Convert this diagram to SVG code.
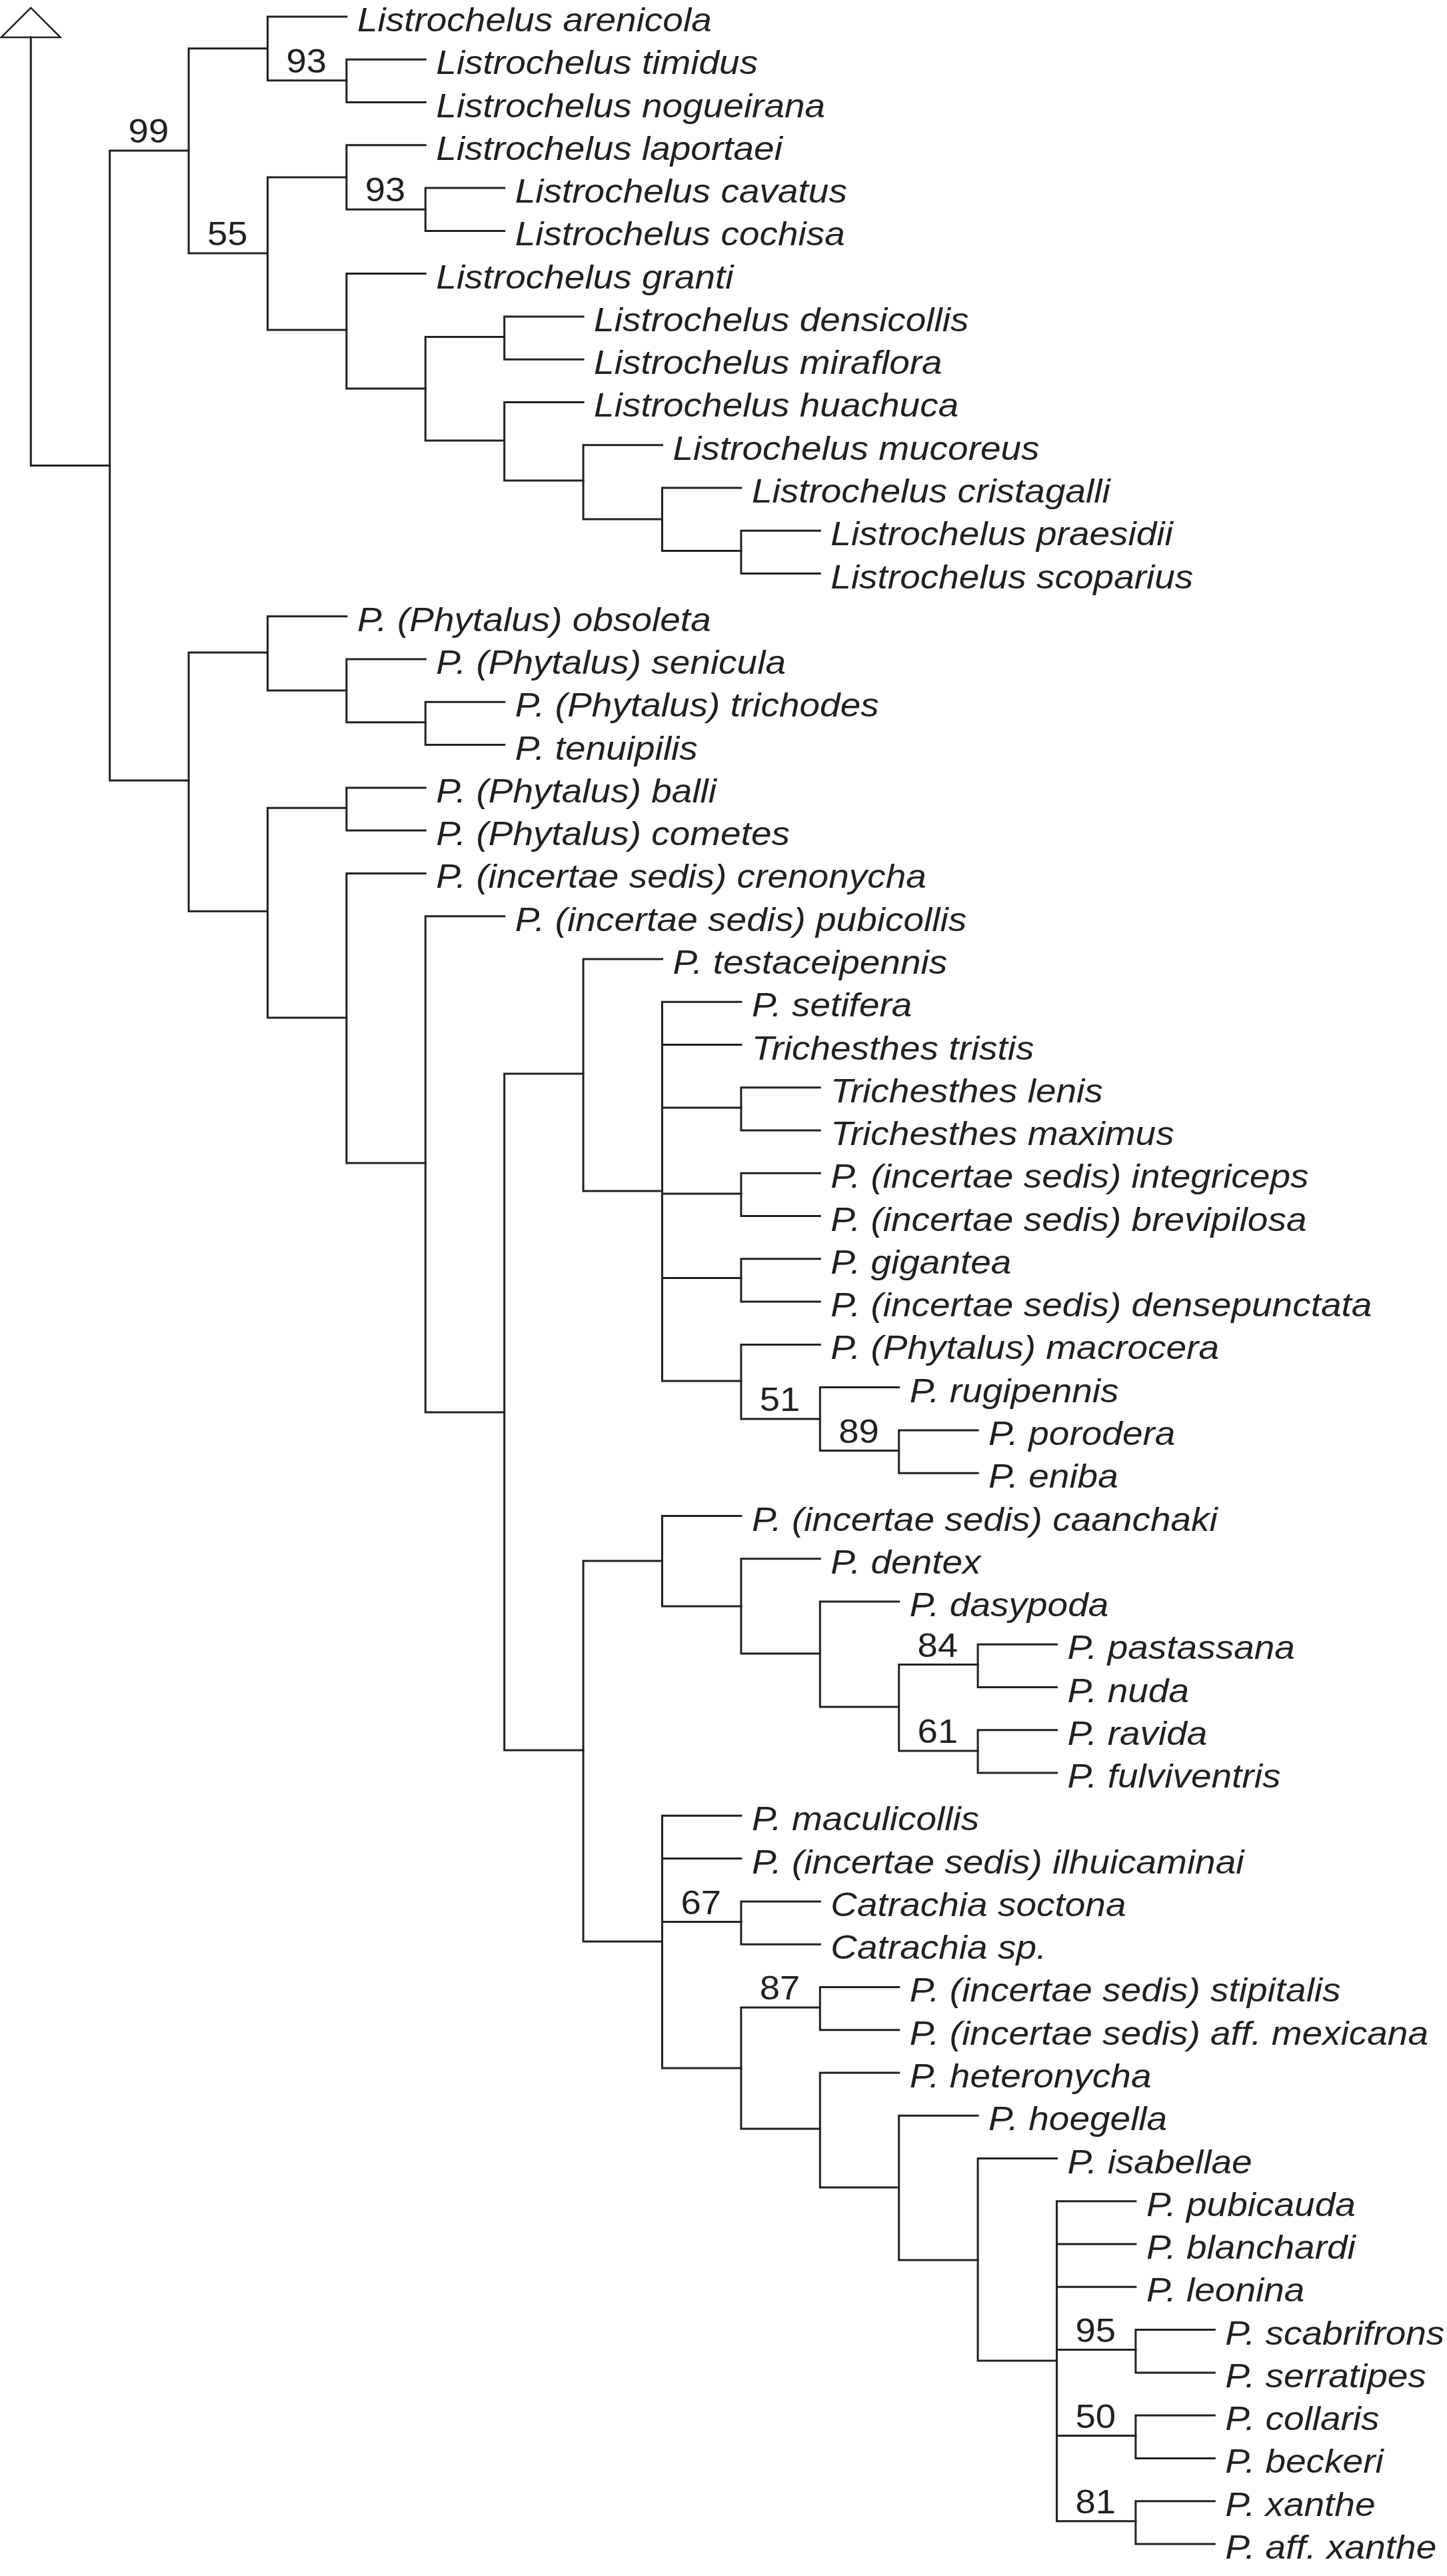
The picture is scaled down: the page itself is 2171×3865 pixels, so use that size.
<svg xmlns="http://www.w3.org/2000/svg" width="2171" height="3865" viewBox="0 0 2171 3865">
<style>
.br{fill:none;stroke:#231f20;stroke-width:3;stroke-linejoin:miter;stroke-linecap:square}
.tri{fill:#fff;stroke:#231f20;stroke-width:2.5;stroke-linejoin:miter}
.tx{font-family:"Liberation Sans",Arial,Helvetica,sans-serif;font-size:50px;font-style:italic;fill:#231f20}
.bs{font-family:"Liberation Sans",Arial,Helvetica,sans-serif;font-size:50px;fill:#231f20;text-anchor:middle}
</style>
<rect width="2171" height="3865" fill="#fff"/>
<g id="outgroup-arrow"><polygon class="tri" points="46.3,11.7 1.7,56 90.7,56"/></g>
<g id="connectors">
<path class="br" d="M46.3 56V698.5H164.7"/>
<path class="br" d="M283.1 226H164.7V1171H283.1"/>
<path class="br" d="M401.5 72.7H283.1V380H401.5"/>
<path class="br" d="M519.9 25H401.5V120.7H519.9"/>
<path class="br" d="M638.3 89.3H519.9V153.5H638.3"/>
<path class="br" d="M519.9 266H401.5V495H519.9"/>
<path class="br" d="M638.3 217.8H519.9V314.2H638.3"/>
<path class="br" d="M756.7 282.1H638.3V346.4H756.7"/>
<path class="br" d="M638.3 410.6H519.9V583H638.3"/>
<path class="br" d="M756.7 505.4H638.3V661H756.7"/>
<path class="br" d="M875.1 474.9H756.7V539.2H875.1"/>
<path class="br" d="M875.1 603.4H756.7V721H875.1"/>
<path class="br" d="M993.5 667.7H875.1V779H993.5"/>
<path class="br" d="M1111.9 732H993.5V826.5H1111.9"/>
<path class="br" d="M1230.3 796.2H1111.9V860.5H1230.3"/>
<path class="br" d="M401.5 979H283.1V1367.3H401.5"/>
<path class="br" d="M519.9 924.8H401.5V1036H519.9"/>
<path class="br" d="M638.3 989.1H519.9V1083.7H638.3"/>
<path class="br" d="M756.7 1053.3H638.3V1117.6H756.7"/>
<path class="br" d="M519.9 1212.3H401.5V1527H519.9"/>
<path class="br" d="M638.3 1181.9H519.9V1246.1H638.3"/>
<path class="br" d="M638.3 1310.4H519.9V1745H638.3"/>
<path class="br" d="M756.7 1374.7H638.3V2119H756.7"/>
<path class="br" d="M875.1 1611H756.7V2626H875.1"/>
<path class="br" d="M993.5 1438.9H875.1V1787H993.5"/>
<path class="br" d="M1111.9 1503.2H993.5V2072H1111.9M993.5 1567.5H1111.9M993.5 1662H1111.9M993.5 1791H1111.9M993.5 1917.6H1111.9"/>
<path class="br" d="M1230.3 1631.8H1111.9V1696H1230.3"/>
<path class="br" d="M1230.3 1760.3H1111.9V1824.6H1230.3"/>
<path class="br" d="M1230.3 1888.8H1111.9V1953.1H1230.3"/>
<path class="br" d="M1230.3 2017.4H1111.9V2129H1230.3"/>
<path class="br" d="M1348.7 2081.6H1230.3V2176.5H1348.7"/>
<path class="br" d="M1467.1 2145.9H1348.7V2210.2H1467.1"/>
<path class="br" d="M993.5 2342H875.1V2913H993.5"/>
<path class="br" d="M1111.9 2274.5H993.5V2410H1111.9"/>
<path class="br" d="M1230.3 2338.7H1111.9V2481H1230.3"/>
<path class="br" d="M1348.7 2403H1230.3V2561H1348.7"/>
<path class="br" d="M1467.1 2497.5H1348.7V2627H1467.1"/>
<path class="br" d="M1585.5 2467.3H1467.1V2531.5H1585.5"/>
<path class="br" d="M1585.5 2595.8H1467.1V2660.1H1585.5"/>
<path class="br" d="M1111.9 2724.3H993.5V3103H1111.9M993.5 2788.6H1111.9M993.5 2883.5H1111.9"/>
<path class="br" d="M1230.3 2852.9H1111.9V2917.2H1230.3"/>
<path class="br" d="M1230.3 3012H1111.9V3194H1230.3"/>
<path class="br" d="M1348.7 2981.4H1230.3V3045.7H1348.7"/>
<path class="br" d="M1348.7 3110H1230.3V3282H1348.7"/>
<path class="br" d="M1467.1 3174.2H1348.7V3391H1467.1"/>
<path class="br" d="M1585.5 3238.5H1467.1V3542H1585.5"/>
<path class="br" d="M1703.9 3302.8H1585.5V3782.7H1703.9M1585.5 3367H1703.9M1585.5 3431.3H1703.9M1585.5 3525.5H1703.9M1585.5 3654.5H1703.9"/>
<path class="br" d="M1822.3 3495.6H1703.9V3559.9H1822.3"/>
<path class="br" d="M1822.3 3624.1H1703.9V3688.4H1822.3"/>
<path class="br" d="M1822.3 3752.7H1703.9V3816.9H1822.3"/>
</g>
<g id="support-values">
<g id="bs-99"><text class="bs" transform="translate(222.9 214)scale(1.09 1)">99</text></g>
<g id="bs-55"><text class="bs" transform="translate(341.3 368)scale(1.09 1)">55</text></g>
<g id="bs-93a"><text class="bs" transform="translate(459.7 108.7)scale(1.09 1)">93</text></g>
<g id="bs-93b"><text class="bs" transform="translate(578.1 302.2)scale(1.09 1)">93</text></g>
<g id="bs-51"><text class="bs" transform="translate(1170.1 2117)scale(1.09 1)">51</text></g>
<g id="bs-89"><text class="bs" transform="translate(1288.5 2164.5)scale(1.09 1)">89</text></g>
<g id="bs-84"><text class="bs" transform="translate(1406.9 2485.5)scale(1.09 1)">84</text></g>
<g id="bs-61"><text class="bs" transform="translate(1406.9 2615)scale(1.09 1)">61</text></g>
<g id="bs-67"><text class="bs" transform="translate(1051.7 2871.5)scale(1.09 1)">67</text></g>
<g id="bs-87"><text class="bs" transform="translate(1170.1 3000)scale(1.09 1)">87</text></g>
<g id="bs-95"><text class="bs" transform="translate(1643.7 3513.5)scale(1.09 1)">95</text></g>
<g id="bs-50"><text class="bs" transform="translate(1643.7 3642.5)scale(1.09 1)">50</text></g>
<g id="bs-81"><text class="bs" transform="translate(1643.7 3770.7)scale(1.09 1)">81</text></g>
</g>
<g id="taxa">
<g id="t00"><text class="tx" transform="translate(535.9 47)scale(1.1 1)">Listrochelus arenicola</text></g>
<g id="t01"><text class="tx" transform="translate(654.3 111.3)scale(1.1 1)">Listrochelus timidus</text></g>
<g id="t02"><text class="tx" transform="translate(654.3 175.5)scale(1.1 1)">Listrochelus nogueirana</text></g>
<g id="t03"><text class="tx" transform="translate(654.3 239.8)scale(1.1 1)">Listrochelus laportaei</text></g>
<g id="t04"><text class="tx" transform="translate(772.7 304.1)scale(1.1 1)">Listrochelus cavatus</text></g>
<g id="t05"><text class="tx" transform="translate(772.7 368.4)scale(1.1 1)">Listrochelus cochisa</text></g>
<g id="t06"><text class="tx" transform="translate(654.3 432.6)scale(1.1 1)">Listrochelus granti</text></g>
<g id="t07"><text class="tx" transform="translate(891.1 496.9)scale(1.1 1)">Listrochelus densicollis</text></g>
<g id="t08"><text class="tx" transform="translate(891.1 561.2)scale(1.1 1)">Listrochelus miraflora</text></g>
<g id="t09"><text class="tx" transform="translate(891.1 625.4)scale(1.1 1)">Listrochelus huachuca</text></g>
<g id="t10"><text class="tx" transform="translate(1009.5 689.7)scale(1.1 1)">Listrochelus mucoreus</text></g>
<g id="t11"><text class="tx" transform="translate(1127.9 754)scale(1.1 1)">Listrochelus cristagalli</text></g>
<g id="t12"><text class="tx" transform="translate(1246.3 818.2)scale(1.1 1)">Listrochelus praesidii</text></g>
<g id="t13"><text class="tx" transform="translate(1246.3 882.5)scale(1.1 1)">Listrochelus scoparius</text></g>
<g id="t14"><text class="tx" transform="translate(535.9 946.8)scale(1.1 1)">P. (Phytalus) obsoleta</text></g>
<g id="t15"><text class="tx" transform="translate(654.3 1011.1)scale(1.1 1)">P. (Phytalus) senicula</text></g>
<g id="t16"><text class="tx" transform="translate(772.7 1075.3)scale(1.1 1)">P. (Phytalus) trichodes</text></g>
<g id="t17"><text class="tx" transform="translate(772.7 1139.6)scale(1.1 1)">P. tenuipilis</text></g>
<g id="t18"><text class="tx" transform="translate(654.3 1203.9)scale(1.1 1)">P. (Phytalus) balli</text></g>
<g id="t19"><text class="tx" transform="translate(654.3 1268.1)scale(1.1 1)">P. (Phytalus) cometes</text></g>
<g id="t20"><text class="tx" transform="translate(654.3 1332.4)scale(1.1 1)">P. (incertae sedis) crenonycha</text></g>
<g id="t21"><text class="tx" transform="translate(772.7 1396.7)scale(1.1 1)">P. (incertae sedis) pubicollis</text></g>
<g id="t22"><text class="tx" transform="translate(1009.5 1460.9)scale(1.1 1)">P. testaceipennis</text></g>
<g id="t23"><text class="tx" transform="translate(1127.9 1525.2)scale(1.1 1)">P. setifera</text></g>
<g id="t24"><text class="tx" transform="translate(1127.9 1589.5)scale(1.1 1)">Trichesthes tristis</text></g>
<g id="t25"><text class="tx" transform="translate(1246.3 1653.8)scale(1.1 1)">Trichesthes lenis</text></g>
<g id="t26"><text class="tx" transform="translate(1246.3 1718)scale(1.1 1)">Trichesthes maximus</text></g>
<g id="t27"><text class="tx" transform="translate(1246.3 1782.3)scale(1.1 1)">P. (incertae sedis) integriceps</text></g>
<g id="t28"><text class="tx" transform="translate(1246.3 1846.6)scale(1.1 1)">P. (incertae sedis) brevipilosa</text></g>
<g id="t29"><text class="tx" transform="translate(1246.3 1910.8)scale(1.1 1)">P. gigantea</text></g>
<g id="t30"><text class="tx" transform="translate(1246.3 1975.1)scale(1.1 1)">P. (incertae sedis) densepunctata</text></g>
<g id="t31"><text class="tx" transform="translate(1246.3 2039.4)scale(1.1 1)">P. (Phytalus) macrocera</text></g>
<g id="t32"><text class="tx" transform="translate(1364.7 2103.6)scale(1.1 1)">P. rugipennis</text></g>
<g id="t33"><text class="tx" transform="translate(1483.1 2167.9)scale(1.1 1)">P. porodera</text></g>
<g id="t34"><text class="tx" transform="translate(1483.1 2232.2)scale(1.1 1)">P. eniba</text></g>
<g id="t35"><text class="tx" transform="translate(1127.9 2296.5)scale(1.1 1)">P. (incertae sedis) caanchaki</text></g>
<g id="t36"><text class="tx" transform="translate(1246.3 2360.7)scale(1.1 1)">P. dentex</text></g>
<g id="t37"><text class="tx" transform="translate(1364.7 2425)scale(1.1 1)">P. dasypoda</text></g>
<g id="t38"><text class="tx" transform="translate(1601.5 2489.3)scale(1.1 1)">P. pastassana</text></g>
<g id="t39"><text class="tx" transform="translate(1601.5 2553.5)scale(1.1 1)">P. nuda</text></g>
<g id="t40"><text class="tx" transform="translate(1601.5 2617.8)scale(1.1 1)">P. ravida</text></g>
<g id="t41"><text class="tx" transform="translate(1601.5 2682.1)scale(1.1 1)">P. fulviventris</text></g>
<g id="t42"><text class="tx" transform="translate(1127.9 2746.3)scale(1.1 1)">P. maculicollis</text></g>
<g id="t43"><text class="tx" transform="translate(1127.9 2810.6)scale(1.1 1)">P. (incertae sedis) ilhuicaminai</text></g>
<g id="t44"><text class="tx" transform="translate(1246.3 2874.9)scale(1.1 1)">Catrachia soctona</text></g>
<g id="t45"><text class="tx" transform="translate(1246.3 2939.2)scale(1.1 1)">Catrachia sp.</text></g>
<g id="t46"><text class="tx" transform="translate(1364.7 3003.4)scale(1.1 1)">P. (incertae sedis) stipitalis</text></g>
<g id="t47"><text class="tx" transform="translate(1364.7 3067.7)scale(1.1 1)">P. (incertae sedis) aff. mexicana</text></g>
<g id="t48"><text class="tx" transform="translate(1364.7 3132)scale(1.1 1)">P. heteronycha</text></g>
<g id="t49"><text class="tx" transform="translate(1483.1 3196.2)scale(1.1 1)">P. hoegella</text></g>
<g id="t50"><text class="tx" transform="translate(1601.5 3260.5)scale(1.1 1)">P. isabellae</text></g>
<g id="t51"><text class="tx" transform="translate(1719.9 3324.8)scale(1.1 1)">P. pubicauda</text></g>
<g id="t52"><text class="tx" transform="translate(1719.9 3389)scale(1.1 1)">P. blanchardi</text></g>
<g id="t53"><text class="tx" transform="translate(1719.9 3453.3)scale(1.1 1)">P. leonina</text></g>
<g id="t54"><text class="tx" transform="translate(1838.3 3517.6)scale(1.1 1)">P. scabrifrons</text></g>
<g id="t55"><text class="tx" transform="translate(1838.3 3581.9)scale(1.1 1)">P. serratipes</text></g>
<g id="t56"><text class="tx" transform="translate(1838.3 3646.1)scale(1.1 1)">P. collaris</text></g>
<g id="t57"><text class="tx" transform="translate(1838.3 3710.4)scale(1.1 1)">P. beckeri</text></g>
<g id="t58"><text class="tx" transform="translate(1838.3 3774.7)scale(1.1 1)">P. xanthe</text></g>
<g id="t59"><text class="tx" transform="translate(1838.3 3838.9)scale(1.1 1)">P. aff. xanthe</text></g>
</g>
</svg>
